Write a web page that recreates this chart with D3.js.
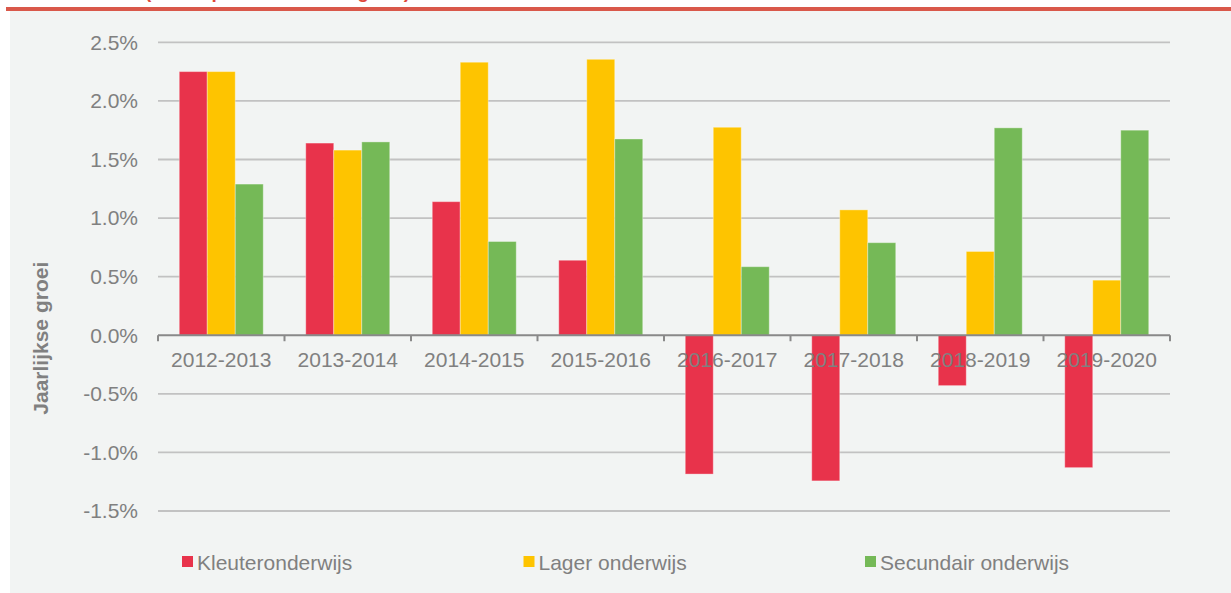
<!DOCTYPE html>
<html>
<head>
<meta charset="utf-8">
<script src="https://cdn.jsdelivr.net/npm/d3@7"></script>
<style>
  body { margin: 0; background: #fff; }
  svg { display: block; font-family: 'Liberation Sans', Arial, sans-serif; }
</style>
</head>
<body>
<svg id="chart" width="1231" height="593"></svg>
<script>
// schooljaren
const categories = ['2012-2013', '2013-2014', '2014-2015', '2015-2016', '2016-2017', '2017-2018', '2018-2019', '2019-2020']
const series = ['Kleuteronderwijs', 'Lager onderwijs', 'Secundair onderwijs']

// jaarlijkse groei in %
const kleuter = [2.25, 1.64, 1.14, 0.64, -1.185, -1.243, -0.43, -1.13]
const lager = [2.25, 1.58, 2.33, 2.355, 1.775, 1.07, 0.715, 0.47]
const secundair = [1.29, 1.65, 0.80, 1.675, 0.585, 0.79, 1.77, 1.75]

const yTicks = [-1.5, -1.0, -0.5, 0.0, 0.5, 1.0, 1.5, 2.0, 2.5]
const colors = ['#e8334b', '#fec400', '#75b957']

const values = [kleuter, lager, secundair]

const svg = d3.select('#chart')
const width = 1231, height = 593
const grey = '#808080'

// background + header strip
svg.append('rect').attr('x', 10).attr('y', 11).attr('width', width - 10).attr('height', height - 11).attr('fill', '#f2f4f3')
svg.append('rect').attr('x', 6).attr('y', 7).attr('width', width - 6).attr('height', 4).attr('fill', '#d9584a')
// title sits above the visible area, only its descenders show
svg.append('text')
  .attr('x', 145).attr('y', -2.5)
  .attr('fill', '#e0473a')
  .attr('font-weight', 'bold')
  .attr('font-size', 19)
  .text('(aantal per school in % groei)')

const x = d3.scaleBand().domain(categories).range([158, 1170])
const xInner = d3.scaleBand().domain(series).range([0, x.bandwidth()]).paddingOuter(0.759)
const y = d3.scaleLinear().domain([-1.5, 2.5]).range([511, 42.3])

// gridlines
svg.append('g').attr('class', 'grid')
  .selectAll('line').data(yTicks.filter(d => d !== 0))
  .enter().append('line')
    .attr('x1', 158).attr('x2', 1170)
    .attr('y1', d => y(d)).attr('y2', d => y(d))
    .attr('stroke', '#c2c2c2')
    .attr('stroke-width', 1.8)

// y tick labels (plain hyphen for negatives, like the original)
svg.append('g').attr('class', 'y-labels')
  .selectAll('text').data(yTicks)
  .enter().append('text')
    .attr('x', 138)
    .attr('y', d => y(d))
    .attr('dy', '0.35em')
    .attr('text-anchor', 'end')
    .attr('font-size', 21)
    .attr('fill', grey)
    .text(d => d.toFixed(1) + '%')

// bars
const groups = svg.append('g').attr('class', 'bars')
  .selectAll('g').data(series)
  .enter().append('g')
    .attr('fill', (d, i) => colors[i])

groups.selectAll('rect')
  .data((s, si) => categories.map((c, ci) => ({ cat: c, s: s, v: values[si][ci] })))
  .enter().append('rect')
    .attr('x', d => x(d.cat) + xInner(d.s))
    .attr('width', xInner.bandwidth())
    .attr('y', d => y(Math.max(0, d.v)))
    .attr('height', d => Math.abs(y(d.v) - y(0)))
    .attr('stroke', 'rgba(255,255,255,0.35)')
    .attr('stroke-width', 1)

// x axis
const xAxis = svg.append('g').attr('class', 'x-axis')
xAxis.append('line')
  .attr('x1', 158).attr('x2', 1170)
  .attr('y1', y(0)).attr('y2', y(0))
  .attr('stroke', '#898989')
  .attr('stroke-width', 2)
xAxis.selectAll('line.tick').data(categories.map(c => x(c)).concat([x.range()[1]]))
  .enter().append('line')
    .attr('class', 'tick')
    .attr('x1', d => d).attr('x2', d => d)
    .attr('y1', y(0)).attr('y2', y(0) + 6)
    .attr('stroke', '#898989')
    .attr('stroke-width', 2)
xAxis.selectAll('text').data(categories)
  .enter().append('text')
    .attr('x', d => x(d) + x.bandwidth() / 2)
    .attr('y', 367)
    .attr('text-anchor', 'middle')
    .attr('font-size', 21)
    .attr('fill', grey)
    .text(d => d)

// y axis title
svg.append('text')
  .attr('transform', `translate(48,${ y(0) + 3 }) rotate(-90)`)
  .attr('text-anchor', 'middle')
  .attr('font-size', 21)
  .attr('font-weight', 'bold')
  .attr('fill', grey)
  .text('Jaarlijkse groei')

// legend
const legend = svg.append('g').attr('class', 'legend')
  .selectAll('g').data(series)
  .enter().append('g')
    .attr('transform', (d, i) => `translate(${ 182 + i * 341.5 },556)`)

legend.append('rect')
  .attr('width', 11).attr('height', 11)
  .attr('fill', (d, i) => colors[i])

legend.append('text')
  .attr('x', 15).attr('y', 14)
  .attr('font-size', 21)
  .attr('fill', grey)
  .text(d => d)
</script>
</body>
</html>
